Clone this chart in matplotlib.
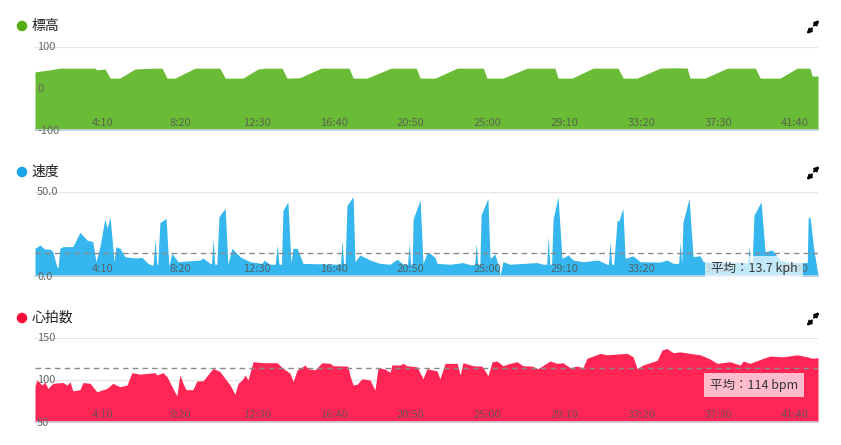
import matplotlib
matplotlib.use("Agg")
import matplotlib.pyplot as plt
from matplotlib.patches import Ellipse
import numpy as np

plt.rcParams['font.family'] = ['Noto Sans CJK JP', 'DejaVu Sans']

# ---------------- data (time in seconds) ----------------
elev_t = [29, 78, 110, 143, 224, 230, 257, 273, 305, 354, 419, 442, 458, 484, 549, 630, 647, 705,
          754, 777, 832, 848, 890, 959, 1050, 1063, 1108, 1186, 1268, 1281, 1330, 1401, 1486, 1498,
          1550, 1629, 1719, 1729, 1775, 1843, 1924, 1941, 1986, 2061, 2116, 2149, 2158, 2207, 2279,
          2370, 2386, 2451, 2506, 2548, 2555, 2574]
elev_v = [40, 45, 49, 49, 49, 45, 47, 25, 25, 47, 49, 49, 25, 25, 49, 49, 25, 25,
          47, 49, 49, 25, 26, 49, 49, 25, 25, 49, 49, 25, 25, 49, 49, 25,
          25, 49, 49, 25, 25, 49, 49, 25, 25, 49, 50, 49, 25, 25, 49,
          49, 25, 25, 49, 49, 30, 30]

speed_t = [29, 45, 61, 78, 87, 100, 104, 110, 120, 152, 175, 198, 217, 227, 240, 256, 263, 273, 286,
           292, 305, 321, 354, 377, 396, 409, 413, 419, 425, 428, 435, 455, 464, 474, 494, 565, 575,
           598, 603, 608, 613, 620, 627, 647, 656, 669, 695, 728, 767, 773, 793, 810, 816, 822, 830,
           835, 851, 861, 868, 881, 900, 1020, 1022, 1027, 1032, 1037, 1043, 1063, 1069, 1085, 1118,
           1150, 1183, 1206, 1225, 1240, 1245, 1250, 1255, 1258, 1281, 1290, 1303, 1313, 1329, 1336,
           1378, 1420, 1443, 1458, 1463, 1468, 1475, 1479, 1501, 1508, 1524, 1534, 1541, 1550, 1573,
           1661, 1680, 1692, 1697, 1702, 1708, 1713, 1729, 1742, 1762, 1778, 1810, 1859, 1888, 1893,
           1898, 1903, 1910, 1921, 1927, 1940, 1947, 1973, 1996, 2061, 2083, 2103, 2121, 2126, 2131,
           2135, 2155, 2168, 2191, 2201, 2337, 2345, 2350, 2355, 2360, 2366, 2389, 2402, 2425, 2451,
           2483, 2539, 2542, 2548, 2561, 2574]
speed_v = [16.5, 18.4, 16, 16, 14.5, 5.5, 5, 16.5, 17.5, 17.5, 26, 21.4, 20.4, 8.5, 17.5, 34, 28.5, 35.3, 8.5,
           17.5, 16.5, 11.5, 10.7, 11, 7.5, 6.5, 6.5, 21.8, 7, 7, 31.7, 34.3, 6, 13.5, 8.5, 9.5, 10.7,
           7.5, 7.5, 22.4, 7, 7, 35.3, 40.3, 7, 16.5, 11.5, 8.5, 7.5, 9.5, 7, 7, 18.4, 7, 7,
           39, 44.2, 8, 16.5, 16.5, 7.5, 7, 7, 21.4, 7, 7, 42, 47.2, 8.5, 12.5, 9.5,
           7.5, 7, 10, 7, 7, 19.4, 7, 7, 34, 45.2, 7.5, 13.5, 13.5, 11, 7.5,
           7, 8, 6.7, 6.7, 19.4, 7, 7, 36.3, 46.2, 10.5, 13, 6.7, 0.6, 8.5, 7,
           8, 7, 7, 23.4, 7, 7, 34, 47.2, 10.5, 12.5, 9.5, 8.5, 9.5, 7, 7,
           20.4, 7, 7, 33.3, 32.7, 40.3, 10.5, 12, 8.5, 8.3, 9.5, 7.5, 7.5, 20.4, 7,
           32, 46.2, 11.5, 12, 8.5, 8, 8, 17.4, 8, 8, 36.3, 44.2, 14.5, 15.5, 9.5,
           8, 8, 34.5, 35.3, 15, 0.5]

hr_t = [29, 35, 52, 61, 71, 87, 120, 133, 143, 152, 175, 185, 208, 230, 263, 282, 305, 328, 344, 370,
        419, 425, 445, 458, 477, 490, 500, 510, 520, 542, 555, 575, 608, 630, 663, 679, 689, 702, 712,
        721, 738, 770, 816, 835, 858, 868, 881, 907, 916, 939, 962, 988, 998, 1046, 1053, 1063, 1076,
        1092, 1118, 1134, 1144, 1167, 1183, 1189, 1215, 1225, 1238, 1271, 1290, 1303, 1336, 1345, 1362,
        1401, 1411, 1420, 1453, 1482, 1492, 1501, 1515, 1531, 1550, 1573, 1596, 1615, 1645, 1664, 1703,
        1726, 1745, 1768, 1791, 1810, 1823, 1843, 1866, 1888, 1921, 1954, 1973, 1986, 2005, 2051, 2067,
        2083, 2103, 2126, 2158, 2191, 2223, 2246, 2288, 2321, 2331, 2353, 2396, 2418, 2461, 2506, 2539,
        2558, 2574]
hr_v = [93, 100, 94, 97.6, 90, 96, 97, 94, 97.6, 87, 88.5, 97, 96, 86, 90, 96, 92, 94, 108.7, 107,
        108.7, 106, 108.7, 104, 90, 81.3, 106, 96, 88.5, 88.5, 98.8, 99, 113.9, 110, 94, 83, 96, 100, 106,
        100, 121.8, 120.6, 120.6, 113.9, 108, 98, 111.9, 117.8, 113.5, 112, 120.6, 119.8, 117, 116.5, 105, 94, 95,
        101.5, 100, 88, 114.7, 113, 109, 117.8, 117.8, 119.8, 117, 115.6, 101.5, 113.5, 110.8, 101.5, 119.8,
        119.8, 106, 120.6, 117, 116.5, 110.8, 105, 121.8, 122.6, 117, 119.8, 121.8, 117, 116.5, 113.5, 122.6,
        119.8, 120.6, 114.7, 116.5, 114.7, 125.8, 128.5, 131.7, 130, 130.9, 131.7, 127.6, 113.5, 117.8, 123.4, 135.7,
        137.5, 132.5, 133.5, 131.7, 130, 125, 119.8, 121.8, 117.8, 122.6, 119.8, 125.8, 128.5, 127.6, 130, 127.6,
        125.8, 126.7]

speed_avg = 13.7
hr_avg = 114

tick_secs = [250, 500, 750, 1000, 1250, 1500, 1750, 2000, 2250, 2500]
tick_labels = ["4:10", "8:20", "12:30", "16:40", "20:50", "25:00", "29:10", "33:20", "37:30", "41:40"]

titles = ["標高", "速度", "心拍数"]
ylims = [(-100, 100), (0, 50), (50, 150)]
ylabels = [["100", "0", "-100"], ["50.0", "0.0"], ["150", "100", "50"]]
ylabel_vals = [[100, 0, -100], [50, 0], [150, 100, 50]]
grid_vals = [[100, 0], [50], [150, 100]]
fill_colors = ["#6abb35", "#36b6ee", "#ff2656"]
dot_colors = ["#55ad15", "#19a7ea", "#ff0a3d"]

XMIN, XMAX = 29, 2574

# ---------------- figure ----------------
W, H = 841, 445
fig = plt.figure(figsize=(W / 100, H / 100), dpi=100)

panel_px = [(47, 130), (192, 276), (338, 422)]  # top, bottom in pixels
title_y = [26, 172, 318]
series = [(elev_t, elev_v), (speed_t, speed_v), (hr_t, hr_v)]
avgs = [None, speed_avg, hr_avg]
avg_text = [None, "平均：13.7 kph", "平均：114 bpm"]
avg_box_y = [None, 268, 385]

x0, x1 = 35, 818
axes = []
for i in range(3):
    top, bot = panel_px[i]
    ax = fig.add_axes([x0 / W, (H - bot) / H, (x1 - x0) / W, (bot - top) / H])
    ax.set_xlim(XMIN, XMAX)
    ax.set_ylim(*ylims[i])
    for s in ['top', 'right', 'left']:
        ax.spines[s].set_visible(False)
    ax.spines['bottom'].set_color('#ccd6eb')
    ax.spines['bottom'].set_linewidth(1.2)
    ax.set_xticks([])
    ax.set_yticks([])
    ax.patch.set_alpha(0)
    for g in grid_vals[i]:
        ax.axhline(g, color='#e6e6e6', lw=1, zorder=0)
    t, v = series[i]
    ax.fill_between(t, v, ylims[i][0], color=fill_colors[i], lw=0, zorder=1)
    if avgs[i] is not None:
        ax.axhline(avgs[i], color='#8a8a8a', lw=1, ls=(0, (4, 3)), zorder=2)
    # y labels inside
    for lab, val in zip(ylabels[i], ylabel_vals[i]):
        ax.annotate(lab, xy=(0, val), xycoords=('axes fraction', 'data'),
                    xytext=(2, -1 if val == ylims[i][0] else 0), textcoords='offset pixels',
                    ha='left', va='center', fontsize=8, color='#666666',
                    zorder=3, annotation_clip=False)
    # x tick labels inside
    for ts, tl in zip(tick_secs, tick_labels):
        ax.annotate(tl, xy=(ts, 0), xycoords=('data', 'axes fraction'),
                    xytext=(0, 7), textcoords='offset pixels',
                    ha='center', va='center', fontsize=8, color='#555555', alpha=0.85,
                    zorder=3)
    axes.append(ax)

# overlay in pixel coordinates for titles / icons / average labels
ov = fig.add_axes([0, 0, 1, 1])
ov.set_xlim(0, W)
ov.set_ylim(H, 0)
ov.axis('off')
ov.patch.set_alpha(0)

for i in range(3):
    ov.add_patch(Ellipse((22, title_y[i]), 10.5, 10.5, color=dot_colors[i], lw=0))
    ov.text(32, title_y[i], titles[i], ha='left', va='center', fontsize=10, color='#222222')
    # expand icon
    cy = title_y[i] + 1
    ov.annotate('', xy=(819.5, cy - 7), xytext=(814, cy - 1.5),
                arrowprops=dict(arrowstyle='-|>', lw=1.6, color='black', mutation_scale=6,
                                shrinkA=0, shrinkB=0))
    ov.annotate('', xy=(806.5, cy + 7), xytext=(812, cy + 1.5),
                arrowprops=dict(arrowstyle='-|>', lw=1.6, color='black', mutation_scale=6,
                                shrinkA=0, shrinkB=0))
    if avg_text[i] is not None:
        ov.text(754, avg_box_y[i], avg_text[i], ha='center', va='center', fontsize=9,
                color='#333333',
                bbox=dict(boxstyle='square,pad=0.45', facecolor='white', alpha=0.7, lw=0))

fig.savefig('out.png', dpi=100)
